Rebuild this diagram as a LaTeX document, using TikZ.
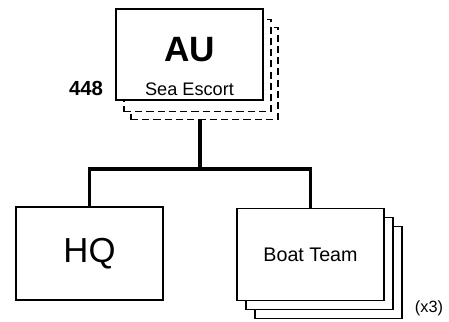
\documentclass[tikz,border=0pt]{standalone}
\usepackage{fontspec}
\setmainfont{Liberation Sans}
\begin{document}
\begin{tikzpicture}[x=0.025cm, y=-0.025cm,
    unit/.style={draw, line width=1.4pt, fill=white, inner sep=0pt, minimum width=3.675cm, minimum height=2.3cm},
    ghost/.style={unit, dashed, dash pattern=on 5pt off 3pt},
    link/.style={line width=2.8pt}]
    \useasboundingbox (0,0) rectangle (449,322);
    % top unit with its two dashed copies
    \node[ghost] (au2) at (204.5, 73.5) {};
    \node[ghost] (au1) at (197.5, 65.5) {};
    \node[unit, minimum height=2.275cm] (au) at (189.5, 54.5) {};
    \node (aulbl) at (189.5, 50) {\fontsize{25}{25}\selectfont\bfseries AU};
    \node (ausub) at (189.5, 89) {\fontsize{12.9}{13}\selectfont Sea Escort};
    \node[anchor=east] (num) at (108, 88) {\fontsize{14.5}{15}\selectfont\bfseries 448};
    % lower units
    \node[unit, minimum height=2.325cm] (hq) at (89.5, 253.5) {\fontsize{24.7}{25}\selectfont HQ};
    \node[unit] (boat3) at (328.5, 272.5) {};
    \node[unit] (boat2) at (319.5, 263.5) {};
    \node[unit] (boat) at (310.5, 254.5) {\fontsize{14}{14}\selectfont Boat Team};
    \node (count) at (429, 308) {\fontsize{11.6}{12}\selectfont (x3)};
    % connectors
    \coordinate (split) at (200, 169);
    \draw[link] (split |- au2.south) -- (split);
    \draw[link] (hq.north) |- (split) -| (boat.north);
\end{tikzpicture}
\end{document}
